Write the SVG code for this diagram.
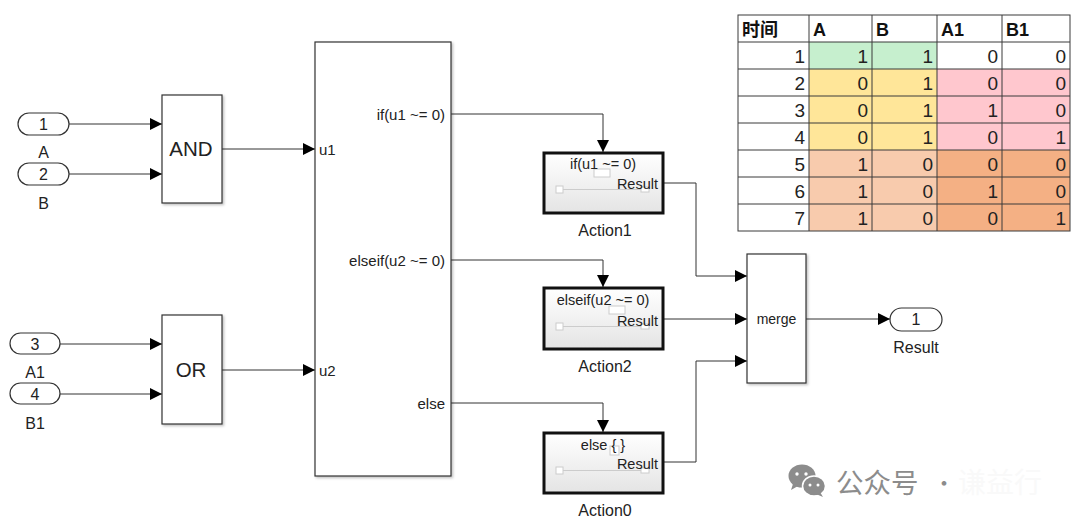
<svg xmlns="http://www.w3.org/2000/svg" width="1080" height="524" viewBox="0 0 1080 524">
<defs>
<marker id="arr" markerUnits="userSpaceOnUse" markerWidth="12" markerHeight="12" viewBox="0 0 12 12" refX="12" refY="6" orient="auto">
<path d="M0,0 L12,6 L0,12 Z" fill="#000"/>
</marker>
<linearGradient id="actfill" x1="0" y1="0" x2="0" y2="1">
<stop offset="0" stop-color="#ffffff"/>
<stop offset="1" stop-color="#e4e4e4"/>
</linearGradient>
<filter id="sh" x="-10%" y="-10%" width="130%" height="130%">
<feDropShadow dx="1.5" dy="1.5" stdDeviation="0.8" flood-color="#000" flood-opacity="0.25"/>
</filter>
</defs>
<style>
text{font-family:"Liberation Sans",Arial,sans-serif;fill:#222}
.blk{fill:#fff;stroke:#333;stroke-width:1.2;filter:url(#sh)}
.pill{fill:#fff;stroke:#333;stroke-width:1.2}
.act{fill:url(#actfill);stroke:#111;stroke-width:3}
.port{fill:#fff;stroke:#ccc;stroke-width:1}
.wire{fill:none;stroke:#333;stroke-width:1;marker-end:url(#arr)}
.s15{font-size:15px}
.s14{font-size:14.5px}
.lbl{font-size:16px;text-anchor:middle}
.big{font-size:20.5px;text-anchor:middle}
.cell{stroke:#3a3a3a;stroke-width:1}
.hd{font-size:18px;font-weight:bold;fill:#111}
.num{font-size:19px;text-anchor:end;fill:#222}
.cjk{font-family:"Noto Sans CJK SC","Liberation Sans",sans-serif}
</style>
<rect width="1080" height="524" fill="#fff"/>

<g id="connectors">
<path class="wire" d="M69,124 H162"/>
<path class="wire" d="M69,174 H162"/>
<path class="wire" d="M222,149 H315"/>
<path class="wire" d="M60,344 H162"/>
<path class="wire" d="M60,394 H162"/>
<path class="wire" d="M222,370 H315"/>
<path class="wire" d="M451,114 H603 V152"/>
<path class="wire" d="M451,260 H603 V287"/>
<path class="wire" d="M451,403 H603 V432"/>
<path class="wire" d="M663,183 H696 V276 H747"/>
<path class="wire" d="M663,319 H747"/>
<path class="wire" d="M663,462 H696 V361 H747"/>
<path class="wire" d="M806,319 H890"/>
</g>

<g id="in1">
<rect class="pill" x="18" y="113" width="51" height="22" rx="11"/>
<text class="lbl" x="43.5" y="130" font-size="15">1</text>
<text class="lbl" x="43.5" y="158">A</text>
</g>
<g id="in2">
<rect class="pill" x="18" y="163" width="51" height="22" rx="11"/>
<text class="lbl" x="43.5" y="180">2</text>
<text class="lbl" x="43.5" y="209">B</text>
</g>
<g id="in3">
<rect class="pill" x="10" y="333" width="50" height="21" rx="10.5"/>
<text class="lbl" x="35" y="350">3</text>
<text class="lbl" x="35" y="378">A1</text>
</g>
<g id="in4">
<rect class="pill" x="10" y="383" width="50" height="21" rx="10.5"/>
<text class="lbl" x="35" y="400">4</text>
<text class="lbl" x="35" y="429">B1</text>
</g>

<g id="and">
<rect class="blk" x="162" y="95" width="60" height="108"/>
<text class="big" x="191" y="156">AND</text>
</g>
<g id="or">
<rect class="blk" x="162" y="315" width="60" height="109"/>
<text class="big" x="191" y="377">OR</text>
</g>

<g id="ifblock">
<rect class="blk" x="315" y="42" width="136" height="434"/>
<text class="s15" x="319" y="155">u1</text>
<text class="s15" x="319" y="376">u2</text>
<text class="s15" x="445" y="120" text-anchor="end">if(u1 ~= 0)</text>
<text class="s15" x="445" y="266" text-anchor="end">elseif(u2 ~= 0)</text>
<text class="s15" x="445" y="409" text-anchor="end">else</text>
</g>

<g id="action1">
<rect class="act" x="544" y="153" width="119" height="60"/>
<rect class="port" x="594" y="169" width="16" height="8"/>
<rect class="port" x="556" y="186" width="7" height="7"/>
<line x1="563" y1="189.5" x2="641" y2="189.5" stroke="#ccc" stroke-width="1"/>
<rect class="port" x="641" y="187" width="8" height="5"/>
<text class="s14" x="603" y="169" text-anchor="middle">if(u1 ~= 0)</text>
<text class="s14" x="658" y="189" text-anchor="end">Result</text>
<text class="lbl" x="605" y="236">Action1</text>
</g>

<g id="action2">
<rect class="act" x="544" y="288" width="119" height="61"/>
<rect class="port" x="609" y="306" width="16" height="8"/>
<rect class="port" x="556" y="323" width="7" height="7"/>
<line x1="563" y1="326.5" x2="641" y2="326.5" stroke="#ccc" stroke-width="1"/>
<rect class="port" x="641" y="324" width="8" height="5"/>
<text class="s14" x="603" y="305" text-anchor="middle">elseif(u2 ~= 0)</text>
<text class="s14" x="658" y="326" text-anchor="end">Result</text>
<text class="lbl" x="605" y="372">Action2</text>
</g>

<g id="action0">
<rect class="act" x="544" y="433" width="119" height="60"/>
<rect class="port" x="610" y="446" width="9" height="9"/>
<rect class="port" x="556" y="467" width="7" height="7"/>
<line x1="563" y1="470.5" x2="641" y2="470.5" stroke="#ccc" stroke-width="1"/>
<rect class="port" x="641" y="468" width="8" height="5"/>
<text class="s14" x="603" y="450" text-anchor="middle">else { }</text>
<text class="s14" x="658" y="469" text-anchor="end">Result</text>
<text class="lbl" x="605" y="516">Action0</text>
</g>

<g id="merge">
<rect class="blk" x="747" y="254" width="59" height="129"/>
<text x="776.5" y="324" text-anchor="middle" font-size="14">merge</text>
</g>

<g id="out1">
<rect class="pill" x="890" y="308" width="52" height="23" rx="11.5"/>
<text class="lbl" x="916" y="325">1</text>
<text class="lbl" x="916" y="353">Result</text>
</g>

<g id="table">
<rect x="809" y="42" width="128" height="27" fill="#c6efce"/>
<rect x="809" y="69" width="128" height="81" fill="#ffe699"/>
<rect x="937" y="69" width="133" height="81" fill="#ffc7ce"/>
<rect x="809" y="150" width="128" height="81" fill="#f8cbad"/>
<rect x="937" y="150" width="133" height="81" fill="#f4b084"/>
<g class="cell" fill="none">
<rect x="738" y="15" width="332" height="216"/>
<line x1="809" y1="15" x2="809" y2="231"/>
<line x1="872" y1="15" x2="872" y2="231"/>
<line x1="937" y1="15" x2="937" y2="231"/>
<line x1="1002" y1="15" x2="1002" y2="231"/>
<line x1="738" y1="42" x2="1070" y2="42"/>
<line x1="738" y1="69" x2="1070" y2="69"/>
<line x1="738" y1="96" x2="1070" y2="96"/>
<line x1="738" y1="123" x2="1070" y2="123"/>
<line x1="738" y1="150" x2="1070" y2="150"/>
<line x1="738" y1="177" x2="1070" y2="177"/>
<line x1="738" y1="204" x2="1070" y2="204"/>
</g>
<text class="hd cjk" x="742" y="36">时间</text>
<text class="hd" x="813" y="36">A</text>
<text class="hd" x="876" y="36">B</text>
<text class="hd" x="941" y="36">A1</text>
<text class="hd" x="1006" y="36">B1</text>
<g class="num">
<text x="805" y="63">1</text><text x="868" y="63" fill="#2e9a3e">1</text><text x="933" y="63" fill="#2e9a3e">1</text><text x="998" y="63">0</text><text x="1066" y="63">0</text>
<text x="805" y="90">2</text><text x="868" y="90">0</text><text x="933" y="90">1</text><text x="998" y="90" fill="#c0304a">0</text><text x="1066" y="90" fill="#c0304a">0</text>
<text x="805" y="117">3</text><text x="868" y="117">0</text><text x="933" y="117">1</text><text x="998" y="117" fill="#c0304a">1</text><text x="1066" y="117" fill="#c0304a">0</text>
<text x="805" y="144">4</text><text x="868" y="144">0</text><text x="933" y="144">1</text><text x="998" y="144" fill="#c0304a">0</text><text x="1066" y="144" fill="#c0304a">1</text>
<text x="805" y="171">5</text><text x="868" y="171">1</text><text x="933" y="171">0</text><text x="998" y="171">0</text><text x="1066" y="171">0</text>
<text x="805" y="198">6</text><text x="868" y="198">1</text><text x="933" y="198">0</text><text x="998" y="198">1</text><text x="1066" y="198">0</text>
<text x="805" y="225">7</text><text x="868" y="225">1</text><text x="933" y="225">0</text><text x="998" y="225">0</text><text x="1066" y="225">1</text>
</g>
</g>

<g id="watermark">
<ellipse cx="802" cy="476" rx="13.5" ry="11.5" fill="#8c8c8c"/>
<path d="M793,484 L791,490 L798,486 Z" fill="#8c8c8c"/>
<ellipse cx="814" cy="486" rx="11.5" ry="10" fill="#8c8c8c" stroke="#fff" stroke-width="1.5"/>
<path d="M820,492 L823,497 L816,494 Z" fill="#8c8c8c"/>
<circle cx="797" cy="474" r="1.7" fill="#fff"/>
<circle cx="806" cy="474" r="1.7" fill="#fff"/>
<circle cx="810" cy="485" r="1.5" fill="#fff"/>
<circle cx="818" cy="485" r="1.5" fill="#fff"/>
<text class="cjk" x="836" y="493" font-size="27.5" style="fill:#8c8c8c">公众号</text>
<text class="cjk" x="933" y="491" font-size="22" style="fill:#8c8c8c">·</text>
<text class="cjk" x="958" y="493" font-size="28" style="fill:#f9f9f9">谦益行</text>
</g>
</svg>
